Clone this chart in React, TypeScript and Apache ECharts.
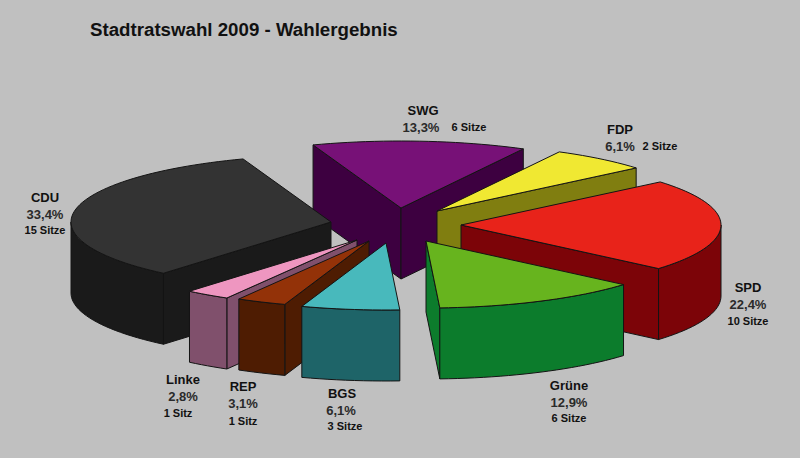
import React, { useEffect, useRef } from "react";
import * as echarts from "echarts";

const parties = ["SPD", "Grüne", "BGS", "REP", "Linke", "CDU", "SWG", "FDP"];
const shares = [22.4, 12.9, 6.1, 3.1, 2.8, 33.4, 13.3, 6.1];
const seats = [10, 6, 3, 1, 1, 15, 6, 2];

const topColors = ["#e8231a", "#67b41e", "#48b9bc", "#933208", "#ee96c0", "#333333", "#771177", "#f0e832"];
const sideColors = ["#7c0408", "#0c7c2c", "#1e6468", "#4e1c02", "#80506c", "#1a1a1a", "#3d0040", "#807e10"];

// Layout: apex of each exploded slice, and back-to-front paint order
const apexX = [461, 426, 386, 369, 357, 331, 401, 437];
const apexY = [225, 241, 243, 241, 240, 222, 208, 211];
const paintOrder = [6, 7, 0, 5, 1, 4, 3, 2];

// Name, percent, seats label anchors: [x, y] per party
const nameAt = [[748, 287], [569, 385], [342, 393], [243, 386], [183, 379], [45, 197], [423, 110], [620, 129]];
const shareAt = [[748, 304], [569, 402], [341, 410], [243, 403], [183, 396], [45, 214], [421, 127], [620, 146]];
const seatAt = [[748, 321], [569, 418], [345, 426], [243, 421], [178, 413], [45, 230], [469, 127], [660, 146]];

const START_DEG = -40;
const RX = 260;
const RY = 67;
const DEPTH = 71;
const EDGE = "#141414";
const FONT = '"Liberation Sans", Arial, sans-serif';

const total = shares.reduce((a, b) => a + b, 0);
const starts: number[] = [];
shares.reduce((acc, v, i) => {
  starts[i] = acc;
  return acc + (v / total) * 360;
}, START_DEG);

const rad = (d: number) => (d * Math.PI) / 180;

function arcPoints(cx: number, cy: number, a: number, b: number, dy = 0) {
  const n = Math.max(2, Math.ceil(Math.abs(b - a) / 2));
  const pts: number[][] = [];
  for (let k = 0; k <= n; k++) {
    const t = rad(a + ((b - a) * k) / n);
    pts.push([cx + RX * Math.cos(t), cy + RY * Math.sin(t) + dy]);
  }
  return pts;
}

function renderSlice(_: unknown, api: any) {
  const i = api.value(0) as number;
  const value = api.value(1) as number;
  const a = starts[i];
  const b = a + (value / total) * 360;
  const cx = apexX[i];
  const cy = apexY[i];
  const children: any[] = [];
  const face = (points: number[][], fill: string) =>
    children.push({
      type: "polygon",
      shape: { points },
      style: { fill, stroke: EDGE, lineWidth: 1, lineJoin: "round" },
    });
  const flat = (d: number) => [cx + RX * Math.cos(rad(d)), cy + RY * Math.sin(rad(d))];

  const radial = (d: number) => {
    const p = flat(d);
    face(
      [[cx, cy], p, [p[0], p[1] + DEPTH], [cx, cy + DEPTH]],
      sideColors[i]
    );
  };
  // Cut faces that turn towards the viewer
  if (Math.cos(rad(a)) < 0) radial(a);
  if (Math.cos(rad(b)) > 0) radial(b);

  // Outer wall, only the part on the near half of the ellipse
  for (const [lo, hi] of [[0, 180], [360, 540]]) {
    const from = Math.max(a, lo);
    const to = Math.min(b, hi);
    if (to > from) {
      face(
        [...arcPoints(cx, cy, from, to), ...arcPoints(cx, cy, to, from, DEPTH)],
        sideColors[i]
      );
    }
  }
  face([[cx, cy], ...arcPoints(cx, cy, a, b)], topColors[i]);
  return { type: "group", children };
}

function label(text: string, at: number[], fontSize: number, fill = "#111111") {
  return {
    type: "text",
    x: at[0],
    y: at[1],
    silent: true,
    style: {
      text,
      fill,
      font: `bold ${fontSize}px ${FONT}`,
      textAlign: "center",
      textVerticalAlign: "middle",
    },
  };
}

export default function App() {
  const ref = useRef<HTMLDivElement>(null);
  useEffect(() => {
    document.body.style.margin = "0";
    const chart = echarts.init(ref.current!, undefined, { renderer: "svg" });
    const labels = parties.flatMap((p, i) => [
      label(p, nameAt[i], 13),
      label(`${String(shares[i]).replace(".", ",")}%`, shareAt[i], 13, "#2a2a2a"),
      label(`${seats[i]} ${seats[i] === 1 ? "Sitz" : "Sitze"}`, seatAt[i], 11),
    ]);
    chart.setOption({
      animation: false,
      backgroundColor: "#c0c0c0",
      title: {
        text: "Stadtratswahl 2009 - Wahlergebnis",
        left: 90,
        top: 20,
        padding: 0,
        textStyle: { fontFamily: FONT, fontWeight: "bold", fontSize: 18.7, color: "#111111" },
      },
      graphic: labels,
      series: [
        {
          type: "custom",
          coordinateSystem: "none",
          silent: true,
          renderItem: renderSlice,
          data: paintOrder.map((i) => [i, shares[i]]),
        },
      ],
    });
    return () => chart.dispose();
  }, []);
  return <div ref={ref} style={{ width: 800, height: 458 }} />;
}
